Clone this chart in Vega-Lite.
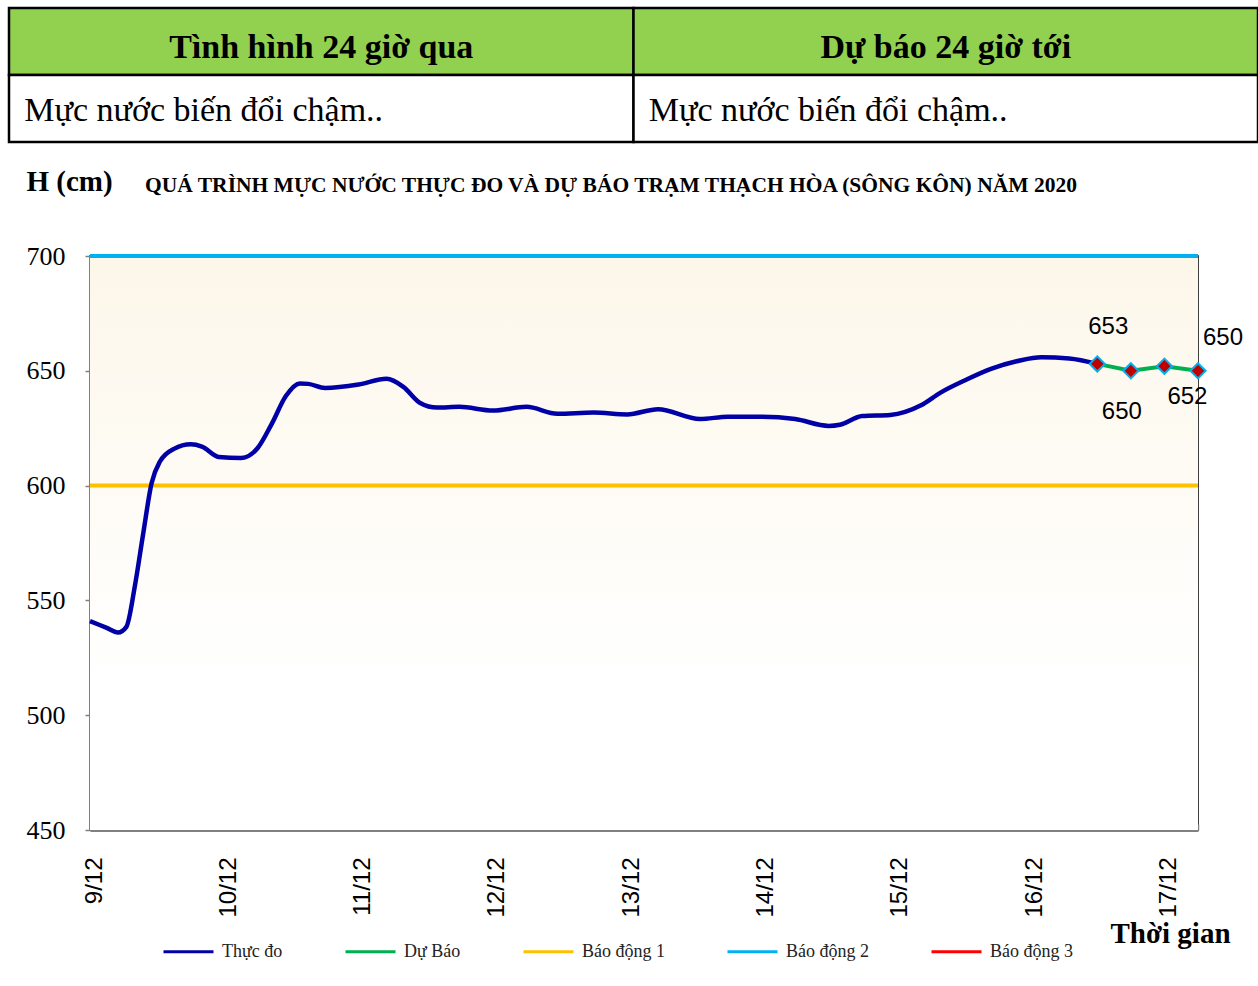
{
  "$schema": "https://vega.github.io/schema/vega-lite/v6.json",
  "padding": {"left": 7, "top": 6, "right": 0, "bottom": 0},
  "background": "white",
  "config": {
    "font": "Liberation Serif",
    "view": {"stroke": null}
  },
  "datasets": {
    "obs": [
      {"t": "2020-12-09T00:00", "h": 541},
      {"t": "2020-12-09T03:00", "h": 538},
      {"t": "2020-12-09T05:00", "h": 536},
      {"t": "2020-12-09T06:30", "h": 538.5},
      {"t": "2020-12-09T08:00", "h": 556},
      {"t": "2020-12-09T09:30", "h": 579},
      {"t": "2020-12-09T11:00", "h": 601},
      {"t": "2020-12-09T12:30", "h": 610.5},
      {"t": "2020-12-09T15:00", "h": 616},
      {"t": "2020-12-09T18:00", "h": 618},
      {"t": "2020-12-09T20:00", "h": 617},
      {"t": "2020-12-09T23:00", "h": 612.5},
      {"t": "2020-12-10T03:00", "h": 612},
      {"t": "2020-12-10T06:00", "h": 616.5},
      {"t": "2020-12-10T08:30", "h": 627},
      {"t": "2020-12-10T11:00", "h": 639},
      {"t": "2020-12-10T13:30", "h": 644.5},
      {"t": "2020-12-10T15:00", "h": 644.3},
      {"t": "2020-12-10T18:00", "h": 642.5},
      {"t": "2020-12-11T00:00", "h": 644},
      {"t": "2020-12-11T05:00", "h": 646.5},
      {"t": "2020-12-11T08:00", "h": 643},
      {"t": "2020-12-11T11:00", "h": 636},
      {"t": "2020-12-11T14:00", "h": 634},
      {"t": "2020-12-11T18:00", "h": 634.3},
      {"t": "2020-12-12T00:00", "h": 632.7},
      {"t": "2020-12-12T06:00", "h": 634.3},
      {"t": "2020-12-12T11:30", "h": 631.3},
      {"t": "2020-12-12T18:00", "h": 631.8},
      {"t": "2020-12-13T00:00", "h": 631},
      {"t": "2020-12-13T05:30", "h": 633.3},
      {"t": "2020-12-13T13:00", "h": 629},
      {"t": "2020-12-13T18:00", "h": 630},
      {"t": "2020-12-14T00:00", "h": 630},
      {"t": "2020-12-14T06:00", "h": 629},
      {"t": "2020-12-14T12:00", "h": 626},
      {"t": "2020-12-14T14:00", "h": 626.5},
      {"t": "2020-12-14T18:00", "h": 630.3},
      {"t": "2020-12-14T23:00", "h": 630.8},
      {"t": "2020-12-15T04:30", "h": 635},
      {"t": "2020-12-15T08:00", "h": 640.5},
      {"t": "2020-12-15T12:30", "h": 646},
      {"t": "2020-12-15T17:00", "h": 650.8},
      {"t": "2020-12-15T22:00", "h": 654.4},
      {"t": "2020-12-16T02:00", "h": 655.9},
      {"t": "2020-12-16T07:00", "h": 655.4},
      {"t": "2020-12-16T12:00", "h": 653}
    ],
    "fc": [
      {"t": "2020-12-16T12:00", "h": 653, "n": 1},
      {"t": "2020-12-16T18:00", "h": 650, "n": 2},
      {"t": "2020-12-17T00:00", "h": 652, "n": 3},
      {"t": "2020-12-17T06:00", "h": 650, "n": 4}
    ],
    "alarms": [
      {"series": "Báo động 1", "value": 600},
      {"series": "Báo động 2", "value": 700}
    ],
    "cells": [
      {"col": "L", "row": "head", "text": "Tình hình 24 giờ qua"},
      {"col": "L", "row": "body", "text": "Mực nước biến đổi chậm.."},
      {"col": "R", "row": "head", "text": "Dự báo 24 giờ tới"},
      {"col": "R", "row": "body", "text": "Mực nước biến đổi chậm.."}
    ]
  },
  "spacing": 22,
  "vconcat": [
    {
      "width": 1168,
      "height": 134,
      "data": {"name": "cells"},
      "layer": [
        {
          "mark": {"type": "rect", "stroke": "black", "strokeWidth": 2.5},
          "encoding": {
            "x": {"field": "col", "type": "nominal", "scale": {"domain": ["L", "R"], "range": [-81, 1168], "paddingInner": 0, "paddingOuter": 0}, "axis": null},
            "y": {"field": "row", "type": "nominal", "scale": {"domain": ["head", "body"], "paddingInner": 0, "paddingOuter": 0}, "axis": null},
            "fill": {"field": "row", "type": "nominal", "scale": {"domain": ["head", "body"], "range": ["#92D050", "#FFFFFF"]}, "legend": null}
          }
        },
        {
          "transform": [{"filter": "datum.row === 'head'"}],
          "mark": {"type": "text", "font": "Liberation Serif", "fontWeight": "bold", "fontSize": 34, "color": "black", "dy": 6},
          "encoding": {
            "x": {"field": "col", "type": "nominal"},
            "y": {"field": "row", "type": "nominal"},
            "text": {"field": "text"}
          }
        },
        {
          "transform": [{"filter": "datum.row === 'body'"}],
          "mark": {"type": "text", "font": "Liberation Serif", "fontSize": 34, "color": "black", "align": "left", "dx": -297, "dy": 2},
          "encoding": {
            "x": {"field": "col", "type": "nominal"},
            "y": {"field": "row", "type": "nominal"},
            "text": {"field": "text"}
          }
        }
      ]
    },
    {
      "width": 1108,
      "height": 574,
      "view": {"stroke": "black", "strokeWidth": 1.5},
      "title": {
        "text": "QUÁ TRÌNH MỰC NƯỚC THỰC ĐO VÀ DỰ BÁO TRẠM THẠCH HÒA (SÔNG KÔN) NĂM 2020",
        "anchor": "start",
        "frame": "group",
        "dx": 55,
        "offset": -29,
        "font": "Liberation Serif",
        "fontSize": 21.5,
        "fontWeight": "bold",
        "color": "black"
      },
      "layer": [
        {
          "data": {"values": [{"k": 1}]},
          "mark": {
            "type": "rect",
            "fill": {"gradient": "linear", "x1": 0, "y1": 0, "x2": 0, "y2": 1, "stops": [{"offset": 0, "color": "#FDF7EA"}, {"offset": 0.75, "color": "#FFFFFF"}]}
          },
          "encoding": {
            "x": {
              "datum": {"year": 2020, "month": 12, "date": 9, "hours": 0},
              "type": "temporal",
              "scale": {"domain": [{"year": 2020, "month": 12, "date": 9, "hours": 0}, {"year": 2020, "month": 12, "date": 17, "hours": 6}], "nice": false},
              "axis": {
                "labelExpr": "hours(datum.value) == 0 ? timeFormat(datum.value, '%-d/%m') : ''",
                "labelAngle": 270,
                "labelFont": "Liberation Sans",
                "labelFontSize": 24,
                "labelColor": "black",
                "labelOverlap": false,
                "labelFlush": false,
                "labelBound": false,
                "labelPadding": 33,
                "labelOffset": 4,
                "tickSize": -6,
                "tickColor": "#808080",
                "tickWidth": 1.5,
                "domainColor": "#808080",
                "domainWidth": 3,
                "grid": false,
                "title": "Thời gian",
                "titleFont": "Liberation Serif",
                "titleFontWeight": "bold",
                "titleFontSize": 29,
                "titleColor": "black",
                "titleX": 1080,
                "titleY": 112,
                "titleAlign": "center",
                "titleBaseline": "alphabetic"
              }
            },
            "x2": {"datum": {"year": 2020, "month": 12, "date": 17, "hours": 6}},
            "y": {
              "datum": 450,
              "type": "quantitative",
              "scale": {"domain": [450, 700], "nice": false, "zero": false},
              "axis": {
                "values": [450, 500, 550, 600, 650, 700],
                "labelFont": "Liberation Serif",
                "labelFontSize": 26,
                "labelColor": "black",
                "labelPadding": 20,
                "tickSize": 5,
                "tickColor": "#808080",
                "tickWidth": 1.5,
                "domainColor": "#808080",
                "domainWidth": 3,
                "grid": false,
                "title": "H (cm)",
                "titleFont": "Liberation Serif",
                "titleFontWeight": "bold",
                "titleFontSize": 29,
                "titleColor": "black",
                "titleAngle": 0,
                "titleX": -64,
                "titleY": -66,
                "titleAlign": "left",
                "titleBaseline": "alphabetic"
              }
            },
            "y2": {"datum": 700}
          }
        },
        {
          "data": {"name": "alarms"},
          "mark": {"type": "rule", "strokeWidth": 4},
          "encoding": {
            "y": {"field": "value", "type": "quantitative"},
            "color": {
              "field": "series",
              "type": "nominal",
              "scale": {
                "domain": ["Thực đo", "Dự Báo", "Báo động 1", "Báo động 2", "Báo động 3"],
                "range": ["#0000A6", "#00B050", "#FFC000", "#00B0F0", "#FF0000"]
              },
              "legend": {
                "title": null,
                "orient": "none",
                "direction": "horizontal",
                "legendX": 72,
                "legendY": 917,
                "symbolType": "stroke",
                "symbolSize": 2500,
                "symbolStrokeWidth": 3,
                "labelFont": "Liberation Serif",
                "labelFontSize": 18,
                "labelColor": "#222222",
                "labelOffset": 7,
                "columnPadding": 56
              }
            }
          }
        },
        {
          "data": {"name": "obs"},
          "mark": {"type": "line", "interpolate": "monotone", "strokeWidth": 4.5},
          "encoding": {
            "x": {"field": "t", "type": "temporal"},
            "y": {"field": "h", "type": "quantitative"},
            "color": {"datum": "Thực đo", "type": "nominal"}
          }
        },
        {
          "data": {"name": "fc"},
          "mark": {"type": "line", "strokeWidth": 4},
          "encoding": {
            "x": {"field": "t", "type": "temporal"},
            "y": {"field": "h", "type": "quantitative"},
            "color": {"datum": "Dự Báo", "type": "nominal"}
          }
        },
        {
          "data": {"name": "fc"},
          "mark": {"type": "point", "shape": "diamond", "filled": true, "fill": "#C00000", "stroke": "#00B0F0", "strokeWidth": 2, "size": 230, "opacity": 1},
          "encoding": {
            "x": {"field": "t", "type": "temporal"},
            "y": {"field": "h", "type": "quantitative"}
          }
        },
        {
          "data": {"name": "fc"},
          "transform": [{"filter": "datum.n === 1"}],
          "mark": {"type": "text", "font": "Liberation Sans", "fontSize": 24, "color": "black", "dx": 11, "dy": -37},
          "encoding": {
            "x": {"field": "t", "type": "temporal"},
            "y": {"field": "h", "type": "quantitative"},
            "text": {"field": "h", "type": "quantitative"}
          }
        },
        {
          "data": {"name": "fc"},
          "transform": [{"filter": "datum.n === 2"}],
          "mark": {"type": "text", "font": "Liberation Sans", "fontSize": 24, "color": "black", "dx": -9, "dy": 41},
          "encoding": {
            "x": {"field": "t", "type": "temporal"},
            "y": {"field": "h", "type": "quantitative"},
            "text": {"field": "h", "type": "quantitative"}
          }
        },
        {
          "data": {"name": "fc"},
          "transform": [{"filter": "datum.n === 3"}],
          "mark": {"type": "text", "font": "Liberation Sans", "fontSize": 24, "color": "black", "dx": 23, "dy": 31},
          "encoding": {
            "x": {"field": "t", "type": "temporal"},
            "y": {"field": "h", "type": "quantitative"},
            "text": {"field": "h", "type": "quantitative"}
          }
        },
        {
          "data": {"name": "fc"},
          "transform": [{"filter": "datum.n === 4"}],
          "mark": {"type": "text", "font": "Liberation Sans", "fontSize": 24, "color": "black", "dx": 25, "dy": -33},
          "encoding": {
            "x": {"field": "t", "type": "temporal"},
            "y": {"field": "h", "type": "quantitative"},
            "text": {"field": "h", "type": "quantitative"}
          }
        }
      ]
    }
  ]
}
